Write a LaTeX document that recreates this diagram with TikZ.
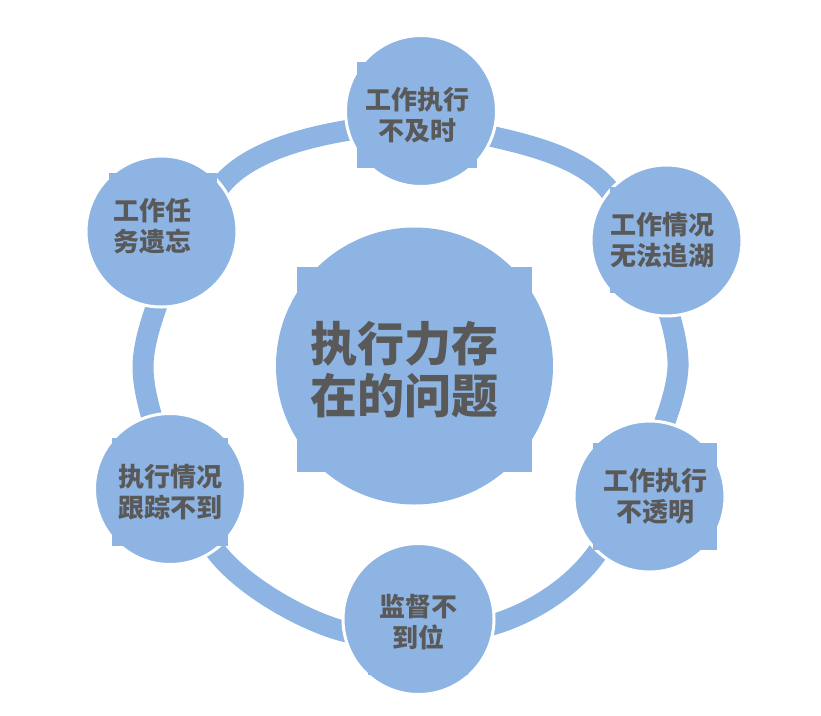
\documentclass[tikz,border=0pt]{standalone}
\usepackage{fontspec}
\newfontfamily\cjk{Noto Sans CJK SC}
\usetikzlibrary{positioning}
\definecolor{ringblue}{HTML}{8EB4E3}
\definecolor{txtgray}{HTML}{595959}
\tikzstyle{ring}=[draw=ringblue,line width=21pt]
\tikzstyle{bubble}=[circle,fill=ringblue,draw=white,line width=3pt,minimum size=151pt,inner sep=0pt]
\tikzstyle{hub}=[circle,fill=ringblue,minimum size=277pt,inner sep=0pt]
\tikzstyle{tbox}=[rectangle,fill=ringblue,text=txtgray,align=center,inner sep=0pt,font=\cjk\bfseries\fontsize{26}{31}\selectfont]

\begin{document}
\begin{tikzpicture}[x=1pt,y=-1pt]
\useasboundingbox (0,0) rectangle (821,715);
% ring behind the bubbles
\draw[ring] plot[smooth cycle] coordinates {(223,183) (346.7,130.5) (493,136.7) (609,190) (678,367) (597,553) (495,624) (343,631) (215,550) (143,365)};
% centre
\node[hub] (core) at (414.5,366) {};
\node[tbox,font=\cjk\bfseries\fontsize{47}{52}\selectfont,text width=209pt,inner xsep=13pt,minimum height=205pt,align=left] (coreT) at (414.5,369.5) {执行力存\\在的问题};
% outer bubbles
\node[bubble] (delay) at (421,111) {};
\node[tbox,minimum width=120pt,minimum height=106pt] (delayT) at (417,115) {工作执行\\不及时};
\node[bubble] (trace) at (666.5,240.5) {};
\node[tbox,minimum width=105pt,minimum height=106pt] (traceT) at (662.5,240) {工作情况\\无法追湖};
\node[bubble] (opaque) at (649.5,496.5) {};
\node[tbox,minimum width=124pt,minimum height=107pt] (opaqueT) at (655,496.5) {工作执行\\不透明};
\node[bubble] (watch) at (418.5,619) {};
\node[tbox,minimum width=100pt,minimum height=105pt] (watchT) at (418,622.5) {监督不\\到位};
\node[bubble] (follow) at (170,489) {};
\node[tbox,minimum width=116pt,minimum height=108pt] (followT) at (170,492) {执行情况\\跟踪不到};
\node[bubble] (forget) at (161.5,231.5) {};
\node[tbox,text width=100pt,inner xsep=4pt,minimum height=106pt,align=left] (forgetT) at (163,226) {工作任\\务遗忘};
\end{tikzpicture}
\end{document}
